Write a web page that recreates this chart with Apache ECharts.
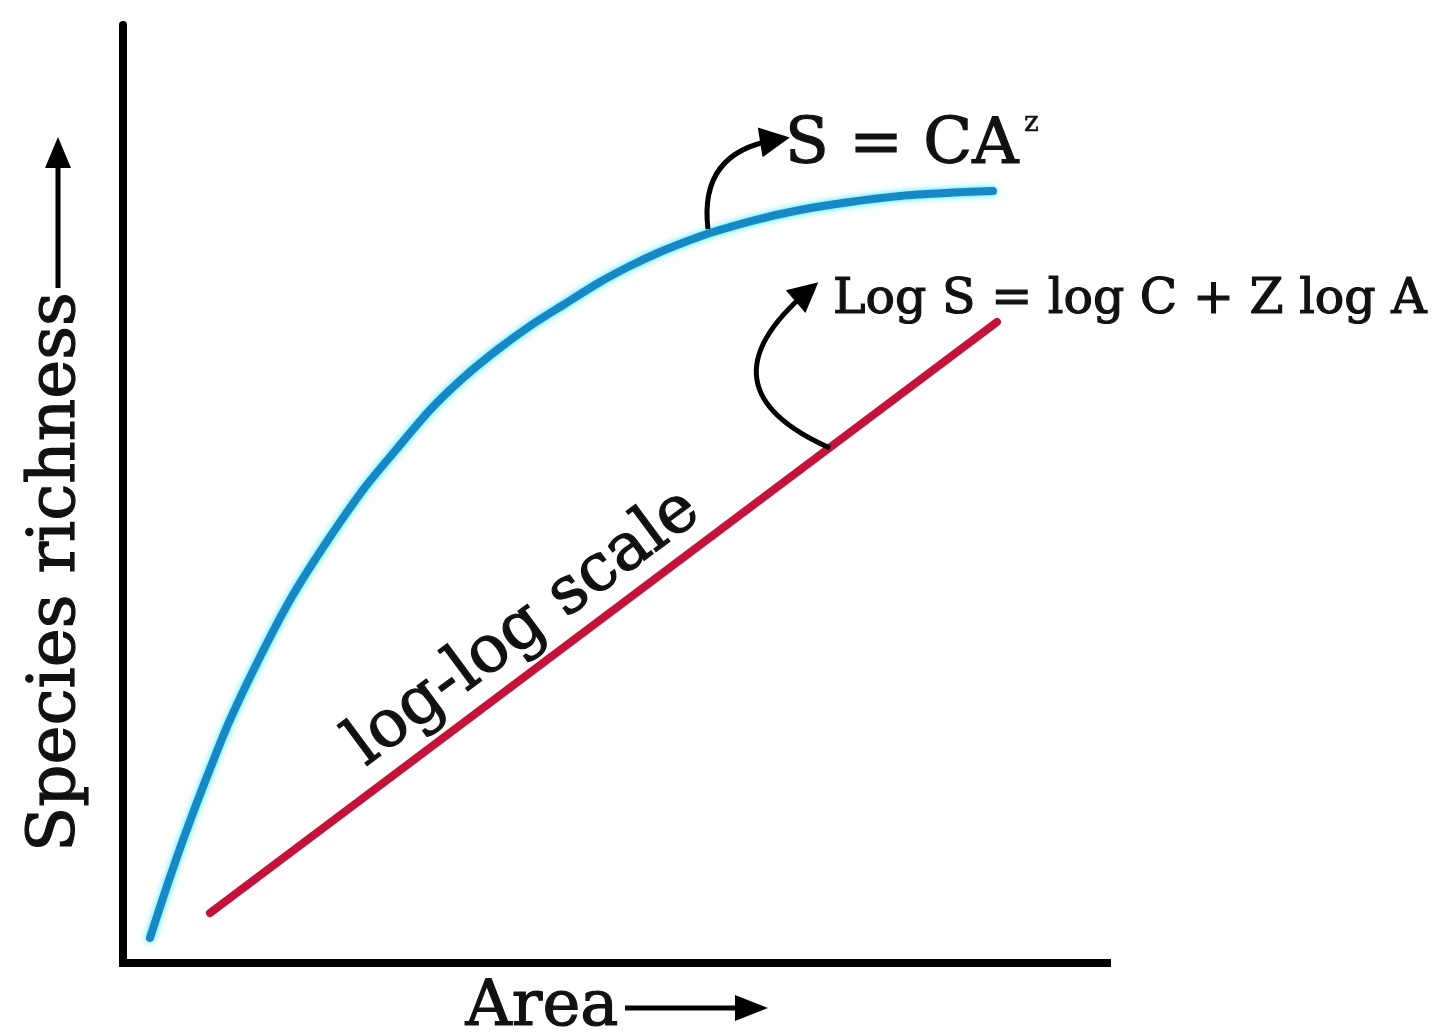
<!DOCTYPE html>
<html>
<head>
<meta charset="utf-8">
<script src="https://cdn.jsdelivr.net/npm/echarts@6/dist/echarts.min.js"></script>
<style>
html,body{margin:0;padding:0;background:#ffffff;}
#c{width:1445px;height:1033px;}
</style>
</head>
<body>
<div id="c"></div>
<script>
// ---- data (axis units 0..100 for both axes) ----
const areaCurve     = [2.74, 4.78, 6.81, 8.84, 10.87, 13.92, 16.97, 20.02, 24.39, 27.64, 31.20, 34.55, 38.01, 41.36, 44.72, 48.48, 51.52, 54.57, 57.11, 59.65, 64.23, 68.80, 73.88, 78.96, 83.64, 88.41];
const richnessCurve = [2.67, 9.17, 15.14, 20.68, 25.91, 32.62, 38.70, 43.82, 50.43, 54.58, 58.96, 62.37, 65.35, 67.91, 70.15, 72.60, 74.31, 75.80, 76.87, 77.83, 79.21, 80.28, 81.13, 81.77, 82.09, 82.30];
const areaLog       = [8.84, 88.82];
const richnessLog   = [5.33, 68.34];
// annotation arrows: start point on the series, end point near the label
const arrowPowerFrom = [59.45, 78.25];
const arrowPowerTo   = [66.26, 87.74];
const arrowLogFrom   = [71.85, 54.90];
const arrowLogTo     = [69.51, 71.54];
// texts
const xName = 'Area';
const yName = 'Species richness';
const curveLabel = 'S = CA';
const curveExponent = 'z';
const lineLabel = 'Log S = log C + Z log A';
const lineNote = 'log-log scale';

const FONT = '"DejaVu Serif", "Liberation Serif", serif';
const INK = '#111111';

function pairs(xs, ys) { return xs.map((x, i) => [x, ys[i]]); }

function txt(text, x, y, size, opts) {
  opts = opts || {};
  const al = opts.align || 'left';
  return {
    type: 'text', x: x, y: y, rotation: opts.rot || 0, z: 20,
    style: {
      text: text, fontFamily: FONT, fontSize: size, fill: INK,
      stroke: INK, lineWidth: opts.bw == null ? 1.2 : opts.bw,
      align: al, verticalAlign: 'middle'
    }
  };
}

const chart = echarts.init(document.getElementById('c'), null, {renderer: 'canvas'});

const option = {
  backgroundColor: '#ffffff',
  animation: false,
  grid: {left: 123, top: 25, right: 338, bottom: 70, containLabel: false},
  xAxis: {
    type: 'value', min: 0, max: 100,
    axisLine: {show: true, onZero: false, lineStyle: {color: '#000', width: 8, cap: 'square'}},
    axisTick: {show: false}, axisLabel: {show: false}, splitLine: {show: false}
  },
  yAxis: {
    type: 'value', min: 0, max: 100,
    axisLine: {show: true, onZero: false, lineStyle: {color: '#000', width: 8}},
    axisTick: {show: false}, axisLabel: {show: false}, splitLine: {show: false}
  },
  series: [
    {
      name: curveLabel + curveExponent, type: 'line', smooth: 0.3, showSymbol: false, symbol: 'none',
      data: pairs(areaCurve, richnessCurve),
      lineStyle: {color: '#1688c6', width: 8, cap: 'round', shadowColor: 'rgba(40,230,255,0.95)', shadowBlur: 6},
      z: 3
    },
    {
      name: lineLabel, type: 'line', showSymbol: false, symbol: 'none',
      data: pairs(areaLog, richnessLog),
      lineStyle: {color: '#c4123a', width: 8, cap: 'round'},
      z: 3
    },
    {
      name: 'annotations', type: 'lines', coordinateSystem: 'cartesian2d', clip: false,
      symbol: ['none', 'triangle'], symbolSize: 30,
      lineStyle: {color: '#000', width: 5, opacity: 1},
      data: [
        {coords: [arrowPowerFrom, arrowPowerTo], lineStyle: {curveness: 0.48}},
        {coords: [arrowLogFrom, arrowLogTo], lineStyle: {curveness: 0.79}}
      ],
      z: 5
    }
  ],
  graphic: [
    txt(curveLabel, 785, 146, 64),
    txt(curveExponent, 1024, 124, 28, {bw: 0.6}),
    txt(lineLabel, 833, 300, 49),
    txt(lineNote, 524, 628, 66, {align: 'center', rot: 36.5 * Math.PI / 180}),
    txt(xName, 542, 1008, 64, {align: 'center'}),
    txt(yName, 57, 572, 66, {align: 'center', rot: Math.PI / 2}),
    // arrow after "Area"
    {type: 'line', shape: {x1: 625, y1: 1008, x2: 745, y2: 1008}, style: {stroke: '#000', lineWidth: 5}},
    {type: 'polygon', shape: {points: [[768, 1008], [735, 995], [735, 1021]]}, style: {fill: '#000'}},
    // arrow above "Species richness"
    {type: 'line', shape: {x1: 58, y1: 288, x2: 58, y2: 160}, style: {stroke: '#000', lineWidth: 5}},
    {type: 'polygon', shape: {points: [[58, 137], [45, 168], [71, 168]]}, style: {fill: '#000'}}
  ]
};

chart.setOption(option);
</script>
</body>
</html>
